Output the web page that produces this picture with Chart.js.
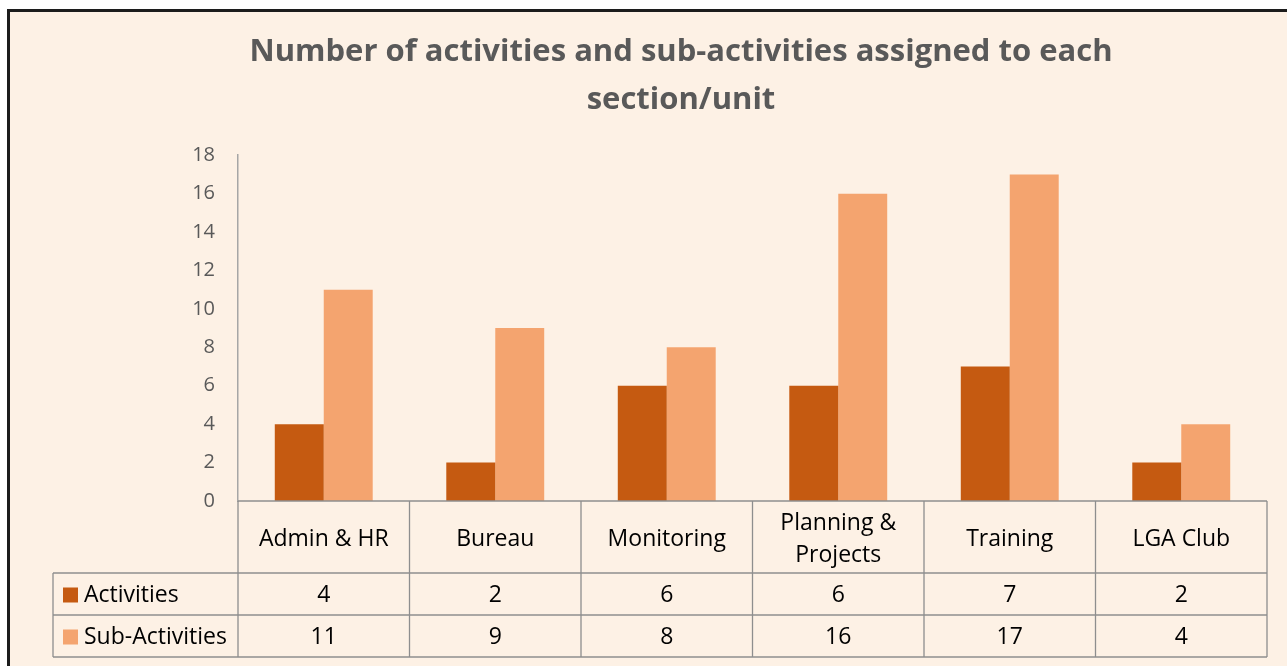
<!DOCTYPE html>
<html>
<head>
<meta charset="utf-8">
<script src="https://cdn.jsdelivr.net/npm/chart.js@4.4.1/dist/chart.umd.min.js"></script>
<style>
  html, body { margin: 0; padding: 0; background: #fff; overflow: hidden; }
  #frame {
    position: absolute;
    left: 7px;
    top: 9px;
    width: 1342px;
    height: 660px;
    background: #fdf1e5;
    border-left: 3px solid #1c1c1c;
    border-top: 3px solid #1c1c1c;
  }
  canvas { display: block; }
</style>
</head>
<body>
<div id="frame"><canvas id="activityChart" width="1342" height="654"></canvas></div>
<script>
const sections = ['Admin & HR', 'Bureau', 'Monitoring', ['Planning &', 'Projects'], 'Training', 'LGA Club']
const activities = [4, 2, 6, 6, 7, 2]
const subActivities = [11, 9, 8, 16, 17, 4]
const yTicks = [0, 2, 4, 6, 8, 10, 12, 14, 16, 18]

const darkOrange = '#c55a11'
const lightOrange = '#f4a46f'
const tableLine = '#8e8e8e'
const tableFont = '23px "Open Sans"'

// data table under the plot, drawn from the x scale so columns line up with the bars
const dataTable = {
  id: 'dataTable',
  afterDraw(chart) {
    const {ctx, chartArea, scales: {x}} = chart
    const headerHeight = 72
    const rowHeight = 42
    const tableLeft = 43
    const top = chartArea.bottom
    const rowLines = [top, top + headerHeight, top + headerHeight + rowHeight, top + headerHeight + rowHeight * 2]
    const count = chart.data.labels.length
    const edges = []
    for (let i = 0; i <= count; i++) {
      if (i === 0) edges.push(chartArea.left)
      else if (i === count) edges.push(chartArea.right)
      else edges.push((x.getPixelForValue(i - 1) + x.getPixelForValue(i)) / 2)
    }

    ctx.save()
    ctx.strokeStyle = tableLine
    ctx.lineWidth = 1.3
    ctx.beginPath()
    ctx.moveTo(chartArea.left, rowLines[0])
    ctx.lineTo(chartArea.right, rowLines[0])
    for (let r = 1; r < rowLines.length; r++) {
      ctx.moveTo(tableLeft, rowLines[r])
      ctx.lineTo(chartArea.right, rowLines[r])
    }
    edges.forEach(edge => {
      ctx.moveTo(edge, rowLines[0])
      ctx.lineTo(edge, rowLines[3])
    })
    ctx.moveTo(tableLeft, rowLines[1])
    ctx.lineTo(tableLeft, rowLines[3])
    ctx.stroke()

    ctx.font = tableFont
    ctx.textBaseline = 'middle'
    chart.data.datasets.forEach((dataset, d) => {
      const mid = (rowLines[d + 1] + rowLines[d + 2]) / 2 + 1.5
      ctx.fillStyle = dataset.backgroundColor
      ctx.fillRect(tableLeft + 10, mid - 8, 15, 15)
      ctx.fillStyle = '#000'
      ctx.textAlign = 'left'
      ctx.fillText(dataset.label, tableLeft + 31, mid)
      ctx.textAlign = 'center'
      dataset.data.forEach((value, i) => {
        ctx.fillText(value, x.getPixelForValue(i), mid)
      })
    })
    ctx.restore()
  }
}

new Chart(document.querySelector('#activityChart'), {
  type: 'bar',
  data: {
    labels: sections,
    datasets: [{
      label: 'Activities',
      data: activities,
      backgroundColor: darkOrange,
      categoryPercentage: 0.571,
      barPercentage: 1
    }, {
      label: 'Sub-Activities',
      data: subActivities,
      backgroundColor: lightOrange,
      categoryPercentage: 0.571,
      barPercentage: 1
    }]
  },
  options: {
    responsive: false,
    animation: false,
    layout: {
      // equal side padding keeps the title centred on the whole frame
      padding: {left: 85, right: 85, top: 0, bottom: 9}
    },
    plugins: {
      legend: {display: false},
      tooltip: {enabled: false},
      title: {
        display: true,
        text: ['Number of activities and sub-activities assigned to each', 'section/unit'],
        color: '#595959',
        font: {family: '"Open Sans"', size: 31, weight: 'bold', lineHeight: 1.52},
        padding: {top: 17, bottom: 32}
      }
    },
    scales: {
      x: {
        grid: {display: false, drawTicks: false},
        border: {display: false},
        ticks: {
          color: '#000',
          font: {family: '"Open Sans"', size: 23, lineHeight: 1.39},
          padding: 22,
          crossAlign: 'center',
          autoSkip: false,
          maxRotation: 0,
          minRotation: 0
        },
        afterFit: (scale) => { scale.height = 156 }
      },
      y: {
        min: 0,
        max: 18,
        afterBuildTicks: (scale) => { scale.ticks = yTicks.map(value => ({value})) },
        grid: {display: false, drawTicks: false},
        border: {display: true, color: '#a6a6a6', width: 1.5},
        ticks: {
          color: '#595959',
          font: {family: '"Open Sans"', size: 20},
          padding: 23
        },
        afterFit: (scale) => { scale.width = 143 }
      }
    }
  },
  plugins: [dataTable]
})
</script>
</body>
</html>
